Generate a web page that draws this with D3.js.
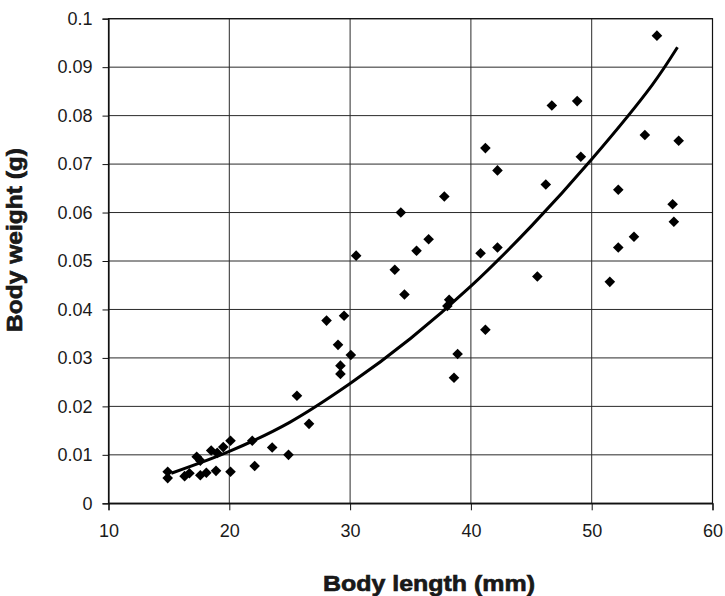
<!DOCTYPE html>
<html>
<head>
<meta charset="utf-8">
<script src="https://cdn.jsdelivr.net/npm/d3@7"></script>
<style>
  html, body { margin: 0; padding: 0; background: #fff; }
  svg { display: block; }
  text { font-family: "Liberation Sans", Arial, sans-serif; fill: #1a1a1a; }
</style>
</head>
<body>
<svg id="chart" width="725" height="596"></svg>
<script>
// ---- data ----
const lengthMM = [14.9, 14.9, 16.3, 16.7, 17.3, 17.6, 17.6, 18.1, 18.9, 18.5, 19.0, 19.5, 20.1, 20.1,
  21.9, 22.1, 23.55, 24.9, 25.6, 26.6, 28.05, 29.5, 29.0, 30.06, 29.2, 29.2, 30.5, 33.7, 34.2, 34.5,
  35.5, 36.5, 37.8, 38.2, 38.05, 38.9, 38.6, 40.8, 41.2, 41.2, 42.2, 42.2, 45.5, 46.2, 46.7, 48.8,
  49.1, 51.5, 52.2, 52.2, 53.5, 54.4, 55.4, 56.7, 56.8, 57.2];
const weightG = [0.0065, 0.0052, 0.0056, 0.0062, 0.0096, 0.0088, 0.0058, 0.0063, 0.0067, 0.0109, 0.0104, 0.0116, 0.0129, 0.0065,
  0.0129, 0.0077, 0.0115, 0.0100, 0.0222, 0.0164, 0.0377, 0.0387, 0.0327, 0.0306, 0.0284, 0.0267, 0.0511, 0.0482, 0.0600, 0.0431,
  0.0521, 0.0545, 0.0633, 0.0420, 0.0407, 0.0308, 0.0259, 0.0516, 0.0733, 0.0358, 0.0687, 0.0528, 0.0468, 0.0658, 0.0821, 0.0830,
  0.0715, 0.0457, 0.0647, 0.0528, 0.0550, 0.0760, 0.0965, 0.0617, 0.0581, 0.0748];
// trend line points
const trendX = [15.2, 20, 25, 30, 35, 40, 45, 50, 55, 57.1];
const trendY = [0.0062, 0.0107, 0.0167, 0.0247, 0.0340, 0.0448, 0.0572, 0.0710, 0.0863, 0.0941];
const xTicks = [10, 20, 30, 40, 50, 60];
const yTicks = [0, 0.01, 0.02, 0.03, 0.04, 0.05, 0.06, 0.07, 0.08, 0.09, 0.1];
const xTitle = "Body length (mm)";
const yTitle = "Body weight (g)";

// ---- layout ----
const L = 108.5, R = 712.5, T = 18.7, B = 503.3;
const svg = d3.select("#chart");
const x = d3.scaleLinear().domain([10, 60]).range([L, R]);
const y = d3.scaleLinear().domain([0, 0.1]).range([B, T]);

// gridlines
const g = svg.append("g");
g.selectAll("line.vg").data(xTicks).join("line")
  .attr("x1", d => x(d)).attr("x2", d => x(d)).attr("y1", T).attr("y2", B)
  .attr("stroke", "#2a2a2a").attr("stroke-width", 1);
g.selectAll("line.hg").data(yTicks).join("line")
  .attr("x1", L).attr("x2", R).attr("y1", d => y(d)).attr("y2", d => y(d))
  .attr("stroke", "#2a2a2a").attr("stroke-width", 1);
// frame
svg.append("rect").attr("x", L).attr("y", T).attr("width", R - L).attr("height", B - T)
  .attr("fill", "none").attr("stroke", "#111").attr("stroke-width", 1.2);

// axes
const fmtY = d => d === 0 ? "0" : String(+d.toFixed(2));
const yAxis = d3.axisLeft(y).tickValues(yTicks).tickFormat(fmtY).tickSize(6).tickPadding(10);
const xAxis = d3.axisBottom(x).tickValues(xTicks).tickFormat(d3.format("d")).tickSize(7).tickPadding(10);
const ya = svg.append("g").attr("transform", `translate(${L},0)`).call(yAxis);
const xa = svg.append("g").attr("transform", `translate(0,${B})`).call(xAxis);
[ya, xa].forEach(a => {
  a.select(".domain").attr("stroke", "#111").attr("stroke-width", 1.2);
  a.selectAll(".tick line").attr("stroke", "#111");
  a.selectAll(".tick text").style("font-size", "18px").style("font-family", "'Liberation Sans', Arial, sans-serif").attr("fill", "#222");
});
xa.selectAll(".tick text").attr("dy", "0.92em");

// points
svg.append("g").selectAll("path").data(lengthMM.map((d, i) => [d, weightG[i]])).join("path")
  .attr("d", d => {
    const cx = x(d[0]), cy = y(d[1]), r = 5.3;
    return `M${cx},${cy - r}L${cx + r},${cy}L${cx},${cy + r}L${cx - r},${cy}Z`;
  })
  .attr("fill", "#000");

// trend line
const line = d3.line().x(d => x(d[0])).y(d => y(d[1])).curve(d3.curveCatmullRom);
svg.append("path").datum(trendX.map((d, i) => [d, trendY[i]]))
  .attr("d", line).attr("fill", "none").attr("stroke", "#000").attr("stroke-width", 3);

// titles
svg.append("text").attr("x", 429).attr("y", 591).attr("text-anchor", "middle")
  .style("font-size", "22px").style("font-weight", "bold")
  .attr("stroke", "#111").attr("stroke-width", 0.6)
  .attr("textLength", 212).attr("lengthAdjust", "spacingAndGlyphs")
  .text(xTitle);
svg.append("text").attr("transform", "translate(22,240) rotate(-90)").attr("text-anchor", "middle")
  .style("font-size", "22px").style("font-weight", "bold")
  .attr("stroke", "#111").attr("stroke-width", 0.6)
  .attr("textLength", 184).attr("lengthAdjust", "spacingAndGlyphs")
  .text(yTitle);
</script>
</body>
</html>
